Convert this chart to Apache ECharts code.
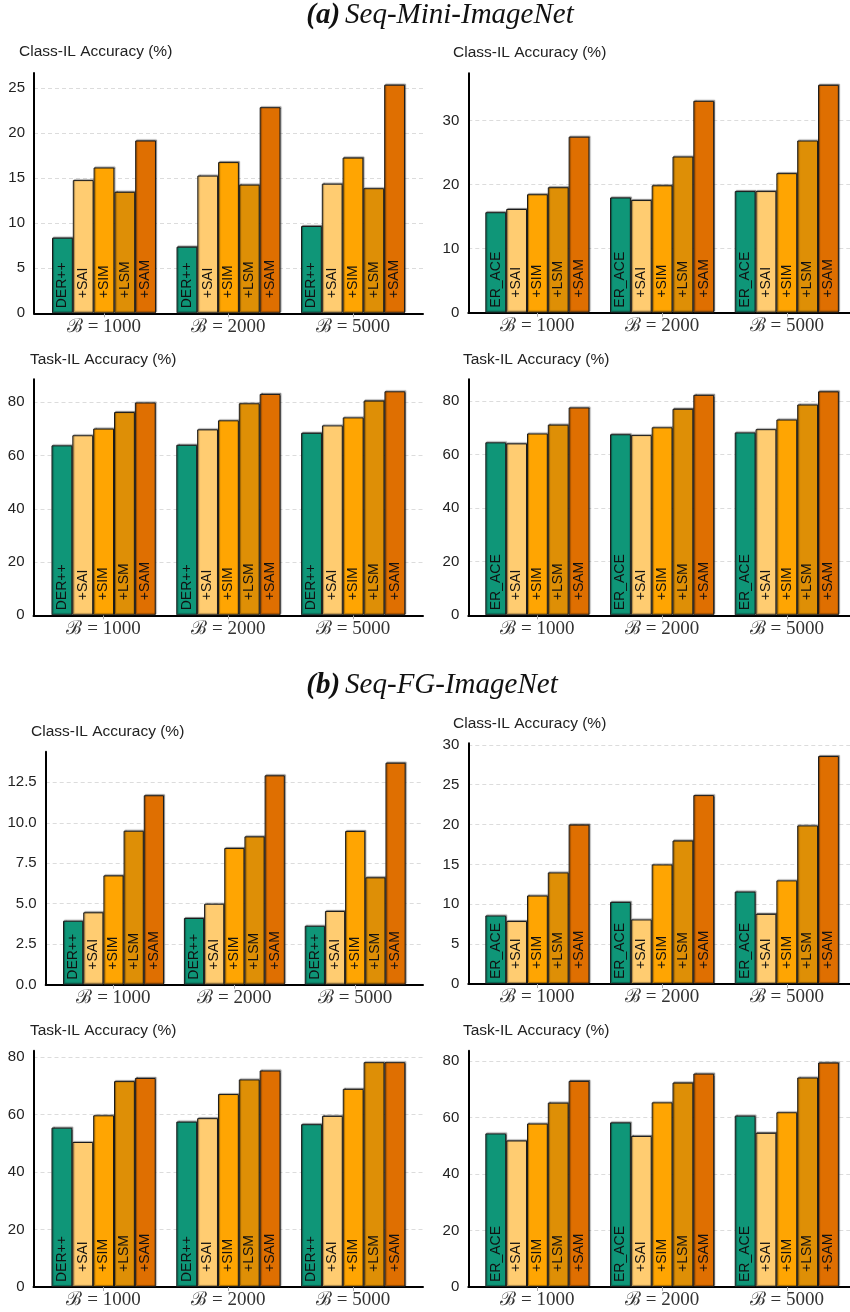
<!DOCTYPE html>
<html>
<head>
<meta charset="utf-8">
<script src="https://cdn.jsdelivr.net/npm/echarts@6/dist/echarts.min.js"></script>
<style>
  html, body { margin: 0; padding: 0; background: #fff; }
  #chart { width: 850px; height: 1312px; }
</style>
</head>
<body>
<div id="chart"></div>
<script>
// Buffer sizes (x categories) and method names (one bar series each)
const budgets = ['ℬ = 1000', 'ℬ = 2000', 'ℬ = 5000'];
const derMethods = ['DER++', '+SAI', '+SIM', '+LSM', '+SAM'];
const aceMethods = ['ER_ACE', '+SAI', '+SIM', '+LSM', '+SAM'];

// Accuracy values: one row per method, one column per buffer size
const miniDerClass = [[8.4, 7.4, 9.7], [14.8, 15.3, 14.4], [16.2, 16.8, 17.3], [13.5, 14.3, 13.9], [19.2, 22.9, 25.4]];
const miniAceClass = [[15.7, 18.0, 19.0], [16.2, 17.6, 19.0], [18.5, 19.9, 21.8], [19.6, 24.4, 26.9], [27.5, 33.1, 35.6]];
const miniDerTask = [[63.8, 64.0, 68.5], [67.6, 69.8, 71.3], [70.1, 73.2, 74.3], [76.3, 79.6, 80.6], [79.9, 83.1, 84.1]];
const miniAceTask = [[64.5, 67.5, 68.2], [64.1, 67.2, 69.4], [67.8, 70.1, 73.0], [71.1, 77.0, 78.6], [77.5, 82.2, 83.5]];
const fgDerClass = [[3.95, 4.12, 3.64], [4.47, 5.0, 4.55], [6.75, 8.44, 9.49], [9.51, 9.16, 6.63], [11.7, 12.93, 13.71]];
const fgAceClass = [[8.6, 10.3, 11.6], [7.9, 8.1, 8.8], [11.1, 15.0, 13.0], [14.0, 18.0, 19.9], [20.0, 23.7, 28.6]];
const fgDerTask = [[55.5, 57.6, 56.7], [50.5, 58.8, 59.6], [59.8, 67.2, 69.0], [71.7, 72.3, 78.3], [72.8, 75.4, 78.3]];
const fgAceTask = [[54.4, 58.3, 60.7], [51.9, 53.5, 54.6], [57.9, 65.4, 61.9], [65.3, 72.4, 74.2], [73.0, 75.6, 79.5]];

const methodColors = ['#0f9678', '#ffcc71', '#ffa502', '#de8f06', '#df6f01'];
const classTitle = 'Class-IL Accuracy (%)';
const taskTitle = 'Task-IL Accuracy (%)';

// Panel placement: frame box (axes), first group centre and group spacing
const panels = [
  { values: miniDerClass, methods: derMethods, title: classTitle, tx: 19, ty: 53, x0: 34, x1: 423, y0: 73, y1: 313.3, yMax: 26.7, step: 5, dec: 0, c0: 104, gap: 124.5 },
  { values: miniAceClass, methods: aceMethods, title: classTitle, tx: 453, ty: 54, x0: 468.3, x1: 850, y0: 73.3, y1: 312.7, yMax: 37.4, step: 10, dec: 0, c0: 537.4, gap: 124.7 },
  { values: miniDerTask, methods: derMethods, title: taskTitle, tx: 30, ty: 361, x0: 33.5, x1: 423, y0: 379.3, y1: 615.3, yMax: 88.6, step: 20, dec: 0, c0: 103.6, gap: 124.8 },
  { values: miniAceTask, methods: aceMethods, title: taskTitle, tx: 463, ty: 361, x0: 468.3, x1: 850, y0: 379.3, y1: 615.3, yMax: 88, step: 20, dec: 0, c0: 537.4, gap: 124.7 },
  { values: fgDerClass, methods: derMethods, title: classTitle, tx: 31, ty: 733, x0: 45.7, x1: 423, y0: 751.7, y1: 984.7, yMax: 14.39, step: 2.5, dec: 1, c0: 113.5, gap: 120.85 },
  { values: fgAceClass, methods: aceMethods, title: classTitle, tx: 453, ty: 725, x0: 468.3, x1: 850, y0: 743.3, y1: 984, yMax: 30.2, step: 5, dec: 0, c0: 537.4, gap: 124.7 },
  { values: fgDerTask, methods: derMethods, title: taskTitle, tx: 30, ty: 1032, x0: 33.5, x1: 423, y0: 1050.7, y1: 1287, yMax: 82.3, step: 20, dec: 0, c0: 103.6, gap: 124.8 },
  { values: fgAceTask, methods: aceMethods, title: taskTitle, tx: 463, ty: 1032, x0: 468.3, x1: 850, y0: 1050.7, y1: 1287, yMax: 83.7, step: 20, dec: 0, c0: 537.4, gap: 124.7 }
];

const headFont = { fontFamily: 'Liberation Serif', fontSize: 29, fontStyle: 'italic', fontWeight: 'normal', color: '#111' };
const headBold = Object.assign({}, headFont, { fontWeight: 'bold' });
const grid = [], xAxis = [], yAxis = [], series = [];
const title = [
  {
    text: '{b|(a)} {i|Seq-Mini-ImageNet}', left: 440, top: 1, textAlign: 'center', padding: 0,
    textStyle: { fontWeight: 'normal', rich: { b: headBold, i: headFont } }
  },
  {
    text: '{b|(b)} {i|Seq-FG-ImageNet}', left: 432, top: 671, textAlign: 'center', padding: 0,
    textStyle: { fontWeight: 'normal', rich: { b: headBold, i: headFont } }
  }
];

panels.forEach((p, i) => {
  const frameIdx = 2 * i, barIdx = 2 * i + 1;
  const h = p.y1 - p.y0;
  const bandLeft = p.c0 - p.gap / 2;

  title.push({
    text: p.title, left: p.tx, top: p.ty - 9, padding: 0,
    textStyle: { fontFamily: 'Liberation Sans', fontSize: 15.5, fontWeight: 'normal', color: '#222' }
  });

  // Frame grid: axis lines, tick labels and dashed gridlines across the full width
  grid.push({ left: p.x0, top: p.y0, width: p.x1 - p.x0, height: h });
  // Bar grid: three equal bands, one per buffer size
  grid.push({ left: bandLeft, top: p.y0, width: p.gap * 3, height: h });

  xAxis.push({
    gridIndex: frameIdx, type: 'value', min: 0, max: 1,
    axisLine: { show: true, onZero: false, lineStyle: { color: '#000', width: 2 } },
    axisTick: { show: false }, axisLabel: { show: false }, splitLine: { show: false }
  });
  xAxis.push({
    gridIndex: barIdx, type: 'category', data: budgets,
    axisLine: { show: false },
    axisTick: { show: true, alignWithLabel: true, length: 4, lineStyle: { color: '#aaa' } },
    axisLabel: { fontFamily: 'Liberation Serif', fontSize: 19, color: '#333', margin: 4 }
  });

  yAxis.push({
    gridIndex: frameIdx, type: 'value', min: 0, max: p.yMax, interval: p.step,
    axisLine: { show: true, lineStyle: { color: '#000', width: 2 } },
    axisTick: { show: false },
    axisLabel: {
      fontFamily: 'Liberation Sans', fontSize: 15, color: '#222', margin: 9,
      showMaxLabel: false, formatter: v => v.toFixed(p.dec)
    },
    splitLine: {
      show: true, showMinLine: false, showMaxLine: false,
      lineStyle: { type: [4, 3], color: '#dcdcdc', width: 1 }
    }
  });
  yAxis.push({ gridIndex: barIdx, type: 'value', min: 0, max: p.yMax, show: false });

  const barW = p.gap * 0.835 / 5;
  p.methods.forEach((name, m) => {
    series.push({
      type: 'bar', name, xAxisIndex: barIdx, yAxisIndex: barIdx,
      data: p.values[m], barWidth: barW, barGap: '0%',
      itemStyle: {
        color: methodColors[m], borderColor: '#1a1a1a', borderWidth: 1,
        shadowColor: 'rgba(0,0,0,0.4)', shadowBlur: 1, shadowOffsetX: 1, shadowOffsetY: -1
      },
      label: {
        show: true, position: 'insideBottom', rotate: 90, align: 'left', verticalAlign: 'middle',
        distance: m === 0 ? 5 : 15, formatter: name,
        fontFamily: 'Liberation Sans', fontSize: 14, color: '#111'
      }
    });
  });
});

const chart = echarts.init(document.getElementById('chart'), null, { renderer: 'canvas' });
chart.setOption({ animation: false, backgroundColor: '#fff', title, grid, xAxis, yAxis, series });
</script>
</body>
</html>
